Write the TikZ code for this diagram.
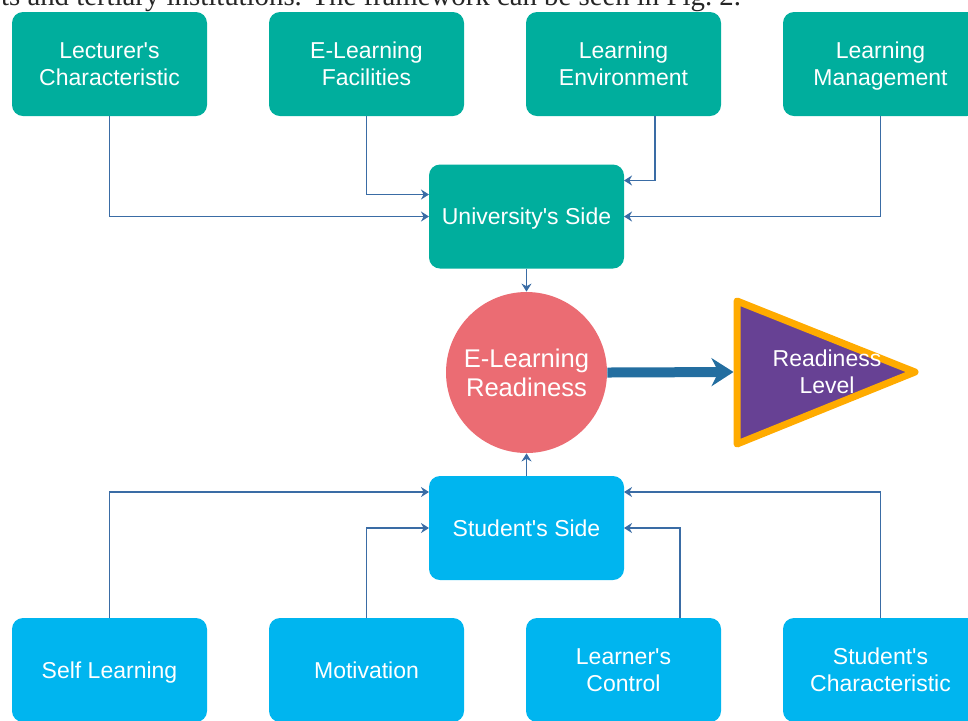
\documentclass[tikz,border=0pt]{standalone}
\usepackage{fontspec}
\setmainfont{Liberation Sans}[Ligatures=TeXOff]
\newfontfamily\papertext{Liberation Serif}
\usepackage{xcolor}
\usepackage{tikz}
\usetikzlibrary{positioning,calc,arrows.meta}
\definecolor{uniteal}{RGB}{0,174,157}
\definecolor{stublue}{RGB}{0,181,239}
\definecolor{readyred}{RGB}{235,108,115}
\definecolor{levelpurple}{RGB}{103,65,148}
\definecolor{levelorange}{RGB}{255,171,0}
\definecolor{linkblue}{RGB}{58,108,165}
\definecolor{bigarrow}{RGB}{35,110,160}

\begin{document}
\begin{tikzpicture}[x=0.5pt,y=-0.5pt,
  factor/.style={rounded corners=5.5pt, minimum width=97.5pt, minimum height=52pt, inner sep=0pt, outer sep=0pt, text depth=0pt, text=white, align=center, font=\fontsize{11.5}{13.5}\selectfont},
  unifactor/.style={factor, fill=uniteal},
  stufactor/.style={factor, fill=stublue},
  link/.style={linkblue, line width=0.7pt, -{Stealth[length=4pt,width=5pt]}}]
\clip (0,0) rectangle (968,720);
\node[anchor=base east, font=\papertext\fontsize{14.4}{17}\selectfont, text=black!85] (ptext) at (748,5) {ts and tertiary institutions. The framework can be seen in Fig.~2.};
% university factors
\node[unifactor] (lect) at (109.5,64) {Lecturer's\\Characteristic};
\node[unifactor, right=31pt of lect] (facil) {E-Learning\\Facilities};
\node[unifactor, right=31pt of facil] (envir) {Learning\\Environment};
\node[unifactor, right=31pt of envir] (manag) {Learning\\Management};
\node[unifactor] (univ) at (526.5,216.5) {University's Side};
% readiness
\node[circle, fill=readyred, minimum size=80.5pt, inner sep=0pt, text=white, align=center, font=\fontsize{12.8}{14.5}\selectfont] (ready) at (526.5,372.5) {E-Learning\\Readiness};
\filldraw[levelorange, fill=levelpurple, line width=3.5pt, line join=round] (737,301) -- (915,372) -- (737,444) -- cycle;
\node[text=white, align=center, font=\fontsize{11.5}{13.5}\selectfont] (level) at (827,372) {Readiness\\Level};
\coordinate (lvlin) at (733.5,372);
% student factors
\node[stufactor] (stud) at (526.5,528) {Student's Side};
\node[stufactor] (selfl) at (109.5,670) {Self Learning};
\node[stufactor, right=31pt of selfl] (motiv) {Motivation};
\node[stufactor, right=31pt of motiv] (lctrl) {Learner's\\Control};
\node[stufactor, right=31pt of lctrl] (schar) {Student's\\Characteristic};
% connectors
\draw[link] (lect.south) |- (univ.west);
\draw[link] (facil.south) |- ($(univ.north west)+(0,30)$);
\draw[link] ($(envir.south)+(31.5,0)$) |- ($(univ.north east)+(0,16)$);
\draw[link] (manag.south) |- (univ.east);
\draw[link] (univ) -- (ready);
\draw[link] (stud) -- (ready);
\draw[link] (selfl.north) |- ($(stud.north west)+(0,16)$);
\draw[link] (motiv.north) |- (stud.west);
\draw[link] ($(lctrl.north)+(56.5,0)$) |- (stud.east);
\draw[link] (schar.north) |- ($(stud.north east)+(0,16)$);
\draw[bigarrow, line width=5pt, -{Stealth[length=11pt,width=14pt]}] (ready.east) -- (lvlin);
\end{tikzpicture}
\end{document}
